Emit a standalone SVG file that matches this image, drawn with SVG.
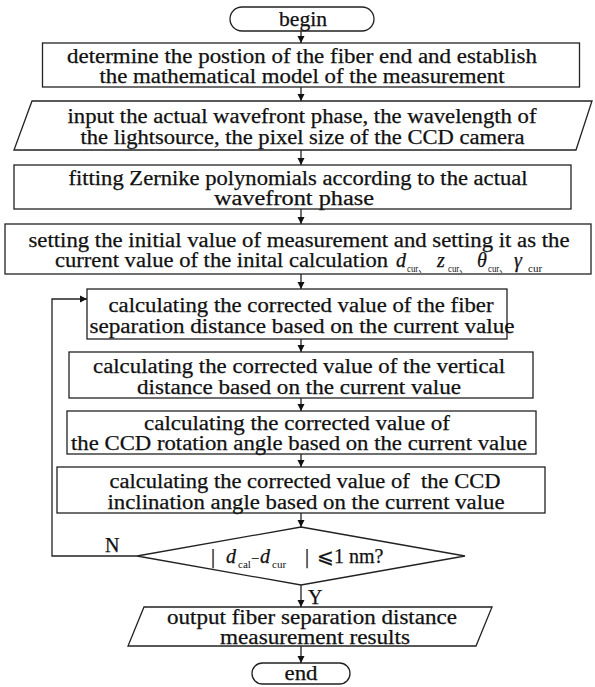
<svg xmlns="http://www.w3.org/2000/svg" width="595" height="687" viewBox="0 0 595 687">
<defs>
<marker id="ah" viewBox="0 0 10 10" refX="10" refY="5" markerWidth="7" markerHeight="8" markerUnits="userSpaceOnUse" orient="auto">
<path d="M0,0 L10,5 L0,10 z" fill="#111"/>
</marker>
<style>
.s{fill:#fff;stroke:#222;stroke-width:1.3}
.t{font-family:"Liberation Serif","DejaVu Serif","Noto Sans CJK SC",serif;font-size:20px;fill:#111;stroke:#111;stroke-width:0.25;text-anchor:middle}
.l{font-family:"Liberation Serif","DejaVu Serif","Noto Sans CJK SC",serif;font-size:20px;fill:#111;stroke:#111;stroke-width:0.25}
.i{font-style:italic}
.sub{font-family:"Liberation Serif","DejaVu Serif","Noto Sans CJK SC",serif;font-size:11px;fill:#111}
.c{fill:none;stroke:#222;stroke-width:1.3}
</style>
</defs>
<rect width="595" height="687" fill="#fff"/>
<g id="connectors">
<line class="c" x1="301" y1="31" x2="301" y2="43" marker-end="url(#ah)"/>
<line class="c" x1="301" y1="87" x2="301" y2="101" marker-end="url(#ah)"/>
<line class="c" x1="301" y1="150" x2="301" y2="165" marker-end="url(#ah)"/>
<line class="c" x1="301" y1="209" x2="301" y2="224" marker-end="url(#ah)"/>
<line class="c" x1="301" y1="274" x2="301" y2="289" marker-end="url(#ah)"/>
<line class="c" x1="301" y1="339" x2="301" y2="352" marker-end="url(#ah)"/>
<line class="c" x1="301" y1="398" x2="301" y2="411" marker-end="url(#ah)"/>
<line class="c" x1="301" y1="454" x2="301" y2="467" marker-end="url(#ah)"/>
<line class="c" x1="301" y1="513" x2="301" y2="527" marker-end="url(#ah)"/>
<line class="c" x1="301" y1="585" x2="301" y2="607" marker-end="url(#ah)"/>
<line class="c" x1="301" y1="646" x2="301" y2="663" marker-end="url(#ah)"/>
<polyline class="c" points="137,556 52,556 52,299 87,299" marker-end="url(#ah)"/>
<text class="l" x="105" y="552">N</text>
<text class="l" x="308" y="604">Y</text>
</g>
<g id="begin">
<rect class="s" x="230" y="7" width="144" height="24" rx="12"/>
<text class="t" x="303" y="26" textLength="48" lengthAdjust="spacingAndGlyphs">begin</text>
</g>
<g id="model">
<rect class="s" x="42.5" y="43" width="537" height="44"/>
<text class="t" x="302" y="63" textLength="470" lengthAdjust="spacingAndGlyphs">determine the postion of the fiber end and establish</text>
<text class="t" x="302" y="83" textLength="405" lengthAdjust="spacingAndGlyphs">the mathematical model of the measurement</text>
</g>
<g id="input">
<polygon class="s" points="32,101 592,101 576,150 14,150"/>
<text class="t" x="302" y="123" textLength="469" lengthAdjust="spacingAndGlyphs">input the actual wavefront phase, the wavelength of</text>
<text class="t" x="302.5" y="144" textLength="444" lengthAdjust="spacingAndGlyphs">the lightsource, the pixel size of the CCD camera</text>
</g>
<g id="fitting">
<rect class="s" x="14" y="165" width="557" height="44"/>
<text class="t" x="298" y="185" textLength="459" lengthAdjust="spacingAndGlyphs">fitting Zernike polynomials according to the actual</text>
<text class="t" x="294" y="205" textLength="160" lengthAdjust="spacingAndGlyphs">wavefront phase</text>
</g>
<g id="initial">
<rect class="s" x="5" y="224" width="586" height="50"/>
<text class="t" x="299" y="247" textLength="541" lengthAdjust="spacingAndGlyphs">setting the initial value of measurement and setting it as the</text>
<text class="l" x="55" y="267" textLength="333" lengthAdjust="spacingAndGlyphs">current value of the inital calculation</text>
<text class="l i" x="396" y="267">d</text>
<text class="sub" x="407" y="272" textLength="20" lengthAdjust="spacingAndGlyphs">cur、</text>
<text class="l i" x="437" y="267">z</text>
<text class="sub" x="448" y="272" textLength="20" lengthAdjust="spacingAndGlyphs">cur、</text>
<text class="l i" x="477" y="267">θ</text>
<text class="sub" x="488" y="272" textLength="20" lengthAdjust="spacingAndGlyphs">cur、</text>
<text class="l i" x="514" y="267">γ</text>
<text class="sub" x="528" y="272">cur</text>
</g>
<g id="fiber">
<rect class="s" x="87" y="289" width="420" height="50"/>
<text class="t" x="301" y="312" textLength="385" lengthAdjust="spacingAndGlyphs">calculating the corrected value of the fiber</text>
<text class="t" x="302" y="333" textLength="425" lengthAdjust="spacingAndGlyphs">separation distance based on the current value</text>
</g>
<g id="vertical">
<rect class="s" x="69" y="352" width="464" height="46"/>
<text class="t" x="299" y="373" textLength="412" lengthAdjust="spacingAndGlyphs">calculating the corrected value of the vertical</text>
<text class="t" x="299" y="394" textLength="324" lengthAdjust="spacingAndGlyphs">distance based on the current value</text>
</g>
<g id="rotation">
<rect class="s" x="67" y="411" width="469" height="43"/>
<text class="t" x="297" y="430" textLength="306" lengthAdjust="spacingAndGlyphs">calculating the corrected value of</text>
<text class="t" x="299" y="450" textLength="456" lengthAdjust="spacingAndGlyphs">the CCD rotation angle based on the current value</text>
</g>
<g id="inclination">
<rect class="s" x="57" y="467" width="488" height="46"/>
<text class="t" x="305" y="488" textLength="391" lengthAdjust="spacingAndGlyphs" xml:space="preserve">calculating the corrected value of  the CCD</text>
<text class="t" x="306" y="509" textLength="397" lengthAdjust="spacingAndGlyphs">inclination angle based on the current value</text>
</g>
<g id="decision">
<polygon class="s" points="301,527 465,556 301,585 137,556"/>
<text class="l" y="563"><tspan x="211">|</tspan><tspan x="226" y="563" font-style="italic">d</tspan><tspan x="238" y="568" font-size="11" stroke-width="0">cal</tspan><tspan x="252" y="561" font-size="13">–</tspan><tspan x="260" y="563" font-style="italic">d</tspan><tspan x="272" y="568" font-size="11" stroke-width="0">cur</tspan><tspan x="305" y="563">|</tspan><tspan x="317" y="563">⩽1 nm?</tspan></text>
</g>
<g id="output">
<polygon class="s" points="144,607 492,607 476,646 128,646"/>
<text class="t" x="312" y="624" textLength="290" lengthAdjust="spacingAndGlyphs">output fiber separation distance</text>
<text class="t" x="315" y="644" textLength="190" lengthAdjust="spacingAndGlyphs">measurement results</text>
</g>
<g id="end">
<rect class="s" x="252" y="663" width="98" height="21" rx="10.5"/>
<text class="t" x="301" y="680" textLength="33" lengthAdjust="spacingAndGlyphs">end</text>
</g>
</svg>
